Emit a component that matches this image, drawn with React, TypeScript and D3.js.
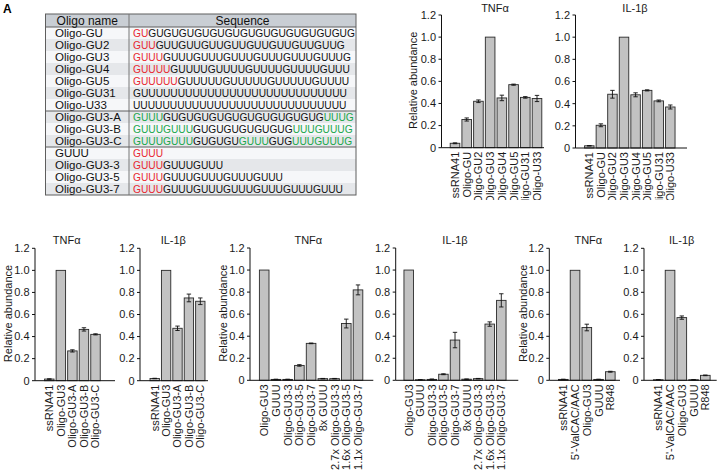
import React from 'react';
import * as d3 from 'd3';

const FONT = "'Liberation Sans', Arial, Helvetica, sans-serif";

// ---------- Table data ----------
const oligoNames = [
  'Oligo-GU', 'Oligo-GU2', 'Oligo-GU3', 'Oligo-GU4', 'Oligo-GU5', 'Oligo-GU31', 'Oligo-U33',
  'Oligo-GU3-A', 'Oligo-GU3-B', 'Oligo-GU3-C',
  'GUUU', 'Oligo-GU3-3', 'Oligo-GU3-5', 'Oligo-GU3-7',
];
// segments alternate: highlighted, plain, highlighted, plain ...
const oligoSegments: string[][] = [
  ['GU', 'GUGUGUGUGUGUGUGUGUGUGUGUGUG'],
  ['GUU', 'GUUGUUGUUGUUGUUGUUGUUGUUG'],
  ['GUUU', 'GUUUGUUUGUUUGUUUGUUUGUUUG'],
  ['GUUUU', 'GUUUUGUUUUGUUUUGUUUUGUUU'],
  ['GUUUUU', 'GUUUUUGUUUUUGUUUUUGUUUU'],
  ['', 'GUUUUUUUUUUUUUUUUUUUUUUUUUUUU'],
  ['', 'UUUUUUUUUUUUUUUUUUUUUUUUUUUUU'],
  ['GUUU', 'GUGUGUGUGUGUGUGUGUGUG', 'UUUG'],
  ['GUUUGUUU', 'GUGUGUGUGUGUG', 'UUUGUUUG'],
  ['GUUUGUUU', 'GUGUGU', 'GUUU', 'GUG', 'UUUGUUUG'],
  ['GUUU'],
  ['GUUU', 'GUUUGUUU'],
  ['GUUU', 'GUUUGUUUGUUUGUUU'],
  ['GUUU', 'GUUUGUUUGUUUGUUUGUUUGUUU'],
];
const oligoGroup = ['ref', 'ref', 'ref', 'ref', 'ref', 'ref', 'ref', 'var', 'var', 'var', 'ref', 'ref', 'ref', 'ref'];
const tableHeaders = ['Oligo name', 'Sequence'];

// ---------- Chart data ----------
const yTickValues = [0, 0.2, 0.4, 0.6, 0.8, 1.0, 1.2];

const lengthCats = ['ssRNA41', 'Oligo-GU', 'Oligo-GU2', 'Oligo-GU3', 'Oligo-GU4', 'Oligo-GU5', 'Oligo-GU31', 'Oligo-U33'];
const lengthTnf = [0.04, 0.255, 0.42, 1.0, 0.45, 0.57, 0.455, 0.445];
const lengthTnfErr = [0.004, 0.014, 0.012, 0, 0.025, 0.005, 0.007, 0.028];
const lengthIl = [0.02, 0.205, 0.485, 1.0, 0.48, 0.52, 0.425, 0.37];
const lengthIlErr = [0.002, 0.013, 0.035, 0, 0.018, 0.005, 0.008, 0.018];

const variantCats = ['ssRNA41', 'Oligo-GU3', 'Oligo-GU3-A', 'Oligo-GU3-B', 'Oligo-GU3-C'];
const variantTnf = [0.015, 1.0, 0.27, 0.465, 0.42];
const variantTnfErr = [0.002, 0, 0.01, 0.015, 0.005];
const variantIl = [0.02, 1.0, 0.475, 0.75, 0.72];
const variantIlErr = [0.002, 0, 0.02, 0.035, 0.03];

const repeatCats = ['Oligo-GU3', 'GUUU', 'Oligo-GU3-3', 'Oligo-GU3-5', 'Oligo-GU3-7', '8x GUUU', '2.7x Oligo-GU3-3', '1.6x Oligo-GU3-5', '1.1x Oligo-GU3-7'];
const repeatTnf = [1.0, 0.008, 0.008, 0.135, 0.335, 0.015, 0.015, 0.515, 0.82];
const repeatTnfErr = [0, 0.002, 0.002, 0.007, 0.003, 0.002, 0.002, 0.04, 0.045];
const repeatIl = [1.0, 0.005, 0.008, 0.055, 0.365, 0.01, 0.015, 0.51, 0.725];
const repeatIlErr = [0, 0.002, 0.004, 0.004, 0.07, 0.002, 0.002, 0.02, 0.06];

const controlCats = ['ssRNA41', "5'-ValCAC/AAC", 'Oligo-GU3', 'GUUU', 'R848'];
const controlTnf = [0.008, 1.0, 0.48, 0.008, 0.078];
const controlTnfErr = [0.002, 0, 0.03, 0.002, 0.004];
const controlIl = [0.005, 1.0, 0.57, 0.005, 0.045];
const controlIlErr = [0.002, 0, 0.015, 0.002, 0.003];

type Panel = {
  cats: string[]; vals: number[]; errs: number[]; title: string;
  axisX: number; axisEnd: number; yTop: number; yZero: number; c0: number; c1: number;
  titleX: number; titleY: number; yLabelX?: number; clipBottom?: number;
};

const panels: Panel[] = [
  { cats: lengthCats, vals: lengthTnf, errs: lengthTnfErr, title: 'TNFα', axisX: 441.5, axisEnd: 544, yTop: 15, yZero: 147.7, c0: 455, c1: 537, titleX: 495, titleY: 11.5, yLabelX: 413, clipBottom: 200 },
  { cats: lengthCats, vals: lengthIl, errs: lengthIlErr, title: 'IL-1β', axisX: 575.5, axisEnd: 687, yTop: 15, yZero: 148, c0: 589.3, c1: 670.3, titleX: 635, titleY: 11.5, clipBottom: 200 },
  { cats: variantCats, vals: variantTnf, errs: variantTnfErr, title: 'TNFα', axisX: 35, axisEnd: 115, yTop: 248.3, yZero: 380.7, c0: 49.3, c1: 95.5, titleX: 66.7, titleY: 244, yLabelX: 8.5 },
  { cats: variantCats, vals: variantIl, errs: variantIlErr, title: 'IL-1β', axisX: 140, axisEnd: 208, yTop: 248.3, yZero: 380.7, c0: 154.7, c1: 200.3, titleX: 173.3, titleY: 244 },
  { cats: repeatCats, vals: repeatTnf, errs: repeatTnfErr, title: 'TNFα', axisX: 250, axisEnd: 373.3, yTop: 248, yZero: 380.3, c0: 264.2, c1: 358, titleX: 308.3, titleY: 244, yLabelX: 223.3 },
  { cats: repeatCats, vals: repeatIl, errs: repeatIlErr, title: 'IL-1β', axisX: 395.7, axisEnd: 518.3, yTop: 248, yZero: 380.3, c0: 408.7, c1: 501.3, titleX: 455, titleY: 244 },
  { cats: controlCats, vals: controlTnf, errs: controlTnfErr, title: 'TNFα', axisX: 549.3, axisEnd: 620, yTop: 248.3, yZero: 380.3, c0: 563.3, c1: 610.3, titleX: 588.3, titleY: 244, yLabelX: 523.3 },
  { cats: controlCats, vals: controlIl, errs: controlIlErr, title: 'IL-1β', axisX: 644, axisEnd: 716.7, yTop: 248.3, yZero: 380.3, c0: 658.3, c1: 705.3, titleX: 681.7, titleY: 244 },
];

const TEXT = '#1a1a1a';

function BarPanel({ p, idx }: { p: Panel; idx: number }) {
  const y = d3.scaleLinear().domain([0, 1.2]).range([p.yZero, p.yTop]);
  const n = p.cats.length;
  const step = (p.c1 - p.c0) / (n - 1);
  const x = d3.scaleBand<string>().domain(p.cats)
    .range([p.c0 - step / 2, p.c1 + step / 2]).paddingInner(0.18).paddingOuter(0.09);
  const bw = x.bandwidth();
  const clipId = `clip-${idx}`;
  return (
    <g clipPath={p.clipBottom ? `url(#${clipId})` : undefined} fontFamily={FONT} fill={TEXT}>
      {p.clipBottom && (
        <defs>
          <clipPath id={clipId}>
            <rect x={0} y={0} width={723} height={p.clipBottom} />
          </clipPath>
        </defs>
      )}
      <text x={p.titleX} y={p.titleY} fontSize={11} textAnchor="middle">{p.title}</text>
      {p.yLabelX !== undefined && (
        <text transform={`translate(${p.yLabelX},${(p.yTop + p.yZero) / 2 - 1}) rotate(-90)`} fontSize={11} textAnchor="middle" dy="0.35em">Relative abundance</text>
      )}
      {p.cats.map((c, i) => {
        const v = p.vals[i];
        return (
          <rect key={c} x={x(c)!} y={y(v)} width={bw} height={p.yZero - y(v)}
            fill="#c2c2c2" stroke="#2a2a2a" strokeWidth={0.9} />
        );
      })}
      {p.cats.map((c, i) => {
        const e = p.errs[i];
        if (!e) return null;
        const cx = x(c)! + bw / 2;
        const v = p.vals[i];
        const yl = y(Math.max(0, v - e));
        const yh = y(v + e);
        return (
          <g key={c + 'e'} stroke="#111" strokeWidth={0.9}>
            <line x1={cx} x2={cx} y1={yl} y2={yh} />
            <line x1={cx - 2.2} x2={cx + 2.2} y1={yh} y2={yh} />
            <line x1={cx - 2.2} x2={cx + 2.2} y1={yl} y2={yl} />
          </g>
        );
      })}
      <line x1={p.axisX} x2={p.axisX} y1={p.yZero} y2={p.yTop} stroke="#111" strokeWidth={1} />
      <line x1={p.axisX} x2={p.axisEnd} y1={p.yZero} y2={p.yZero} stroke="#111" strokeWidth={1} />
      {yTickValues.map((t) => (
        <g key={t}>
          <line x1={p.axisX - 3} x2={p.axisX} y1={y(t)} y2={y(t)} stroke="#111" strokeWidth={1} />
          <text x={p.axisX - 5.5} y={y(t)} dy="0.35em" fontSize={11} textAnchor="end">{t === 0 ? '0' : t.toFixed(1)}</text>
        </g>
      ))}
      {p.cats.map((c) => (
        <text key={c + 'l'} transform={`translate(${x(c)! + bw / 2},${p.yZero + 4}) rotate(-90)`}
          fontSize={11} textAnchor="end" dy="0.36em">{c}</text>
      ))}
    </g>
  );
}

function OligoTable() {
  const left = 45.5, mid = 129, right = 356;
  const top = 14, headBottom = 27, rowH = 12;
  const groupColor: Record<string, string> = { ref: '#e8262f', var: '#1aa64b' };
  const sepAfter = [6, 9];
  const bottom = headBottom + rowH * oligoNames.length;
  return (
    <g fontFamily={FONT}>
      {oligoNames.map((nm, i) => (
        <rect key={nm + 'bg'} x={left} y={headBottom + i * rowH} width={right - left} height={rowH}
          fill={i % 2 === 0 ? '#f6f7f9' : '#e5e7ea'} />
      ))}
      <rect x={left} y={top} width={right - left} height={headBottom - top} fill="#c9ced4" />
      <rect x={left} y={top} width={right - left} height={bottom - top} fill="none" stroke="#5e5e5e" strokeWidth={1} />
      <line x1={left} x2={right} y1={headBottom} y2={headBottom} stroke="#5e5e5e" />
      <line x1={mid} x2={mid} y1={top} y2={bottom} stroke="#777" />
      {sepAfter.map((r) => (
        <line key={r} x1={left} x2={right} y1={headBottom + (r + 1) * rowH} y2={headBottom + (r + 1) * rowH} stroke="#5e5e5e" />
      ))}
      <text x={(left + mid) / 2} y={(top + headBottom) / 2} dy="0.36em" fontSize={12} textAnchor="middle" fill="#111">{tableHeaders[0]}</text>
      <text x={(mid + right) / 2} y={(top + headBottom) / 2} dy="0.36em" fontSize={12} textAnchor="middle" fill="#111">{tableHeaders[1]}</text>
      {oligoNames.map((nm, i) => {
        const cy = headBottom + i * rowH + rowH / 2;
        return (
          <g key={nm}>
            <text x={55} y={cy} dy="0.36em" fontSize={11.5} fill="#111">{nm}</text>
            <text x={133} y={cy} dy="0.36em" fontSize={10.2}>
              {oligoSegments[i].map((s, k) => (
                <tspan key={k} fill={k % 2 === 0 ? groupColor[oligoGroup[i]] : '#111'}>{s}</tspan>
              ))}
            </text>
          </g>
        );
      })}
    </g>
  );
}

export default function App() {
  return (
    <svg width={723} height={471} style={{ position: 'absolute', left: 0, top: 0, background: '#fff' }}>
      <rect width={723} height={471} fill="#fff" />
      <text x={3} y={13} fontFamily={FONT} fontSize={12} fontWeight="bold">A</text>
      <OligoTable />
      {panels.map((p, i) => <BarPanel key={i} p={p} idx={i} />)}
    </svg>
  );
}
